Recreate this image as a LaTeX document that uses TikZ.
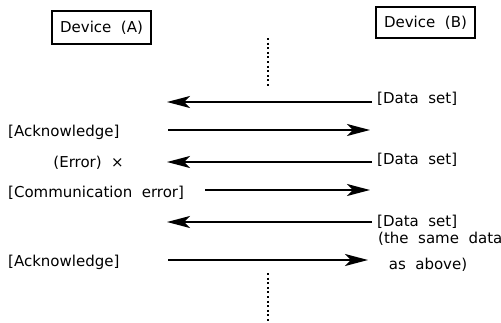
\documentclass[tikz,border=0pt]{standalone}
\usepackage{fontspec}
\setmainfont[WordSpace=2]{DejaVu Sans}
\usetikzlibrary{arrows.meta}
\begin{document}
\begin{tikzpicture}[x=1pt,y=-1pt,
  lbl/.style={inner sep=0pt,font=\fontsize{15}{17}\selectfont},
  devbox/.style={draw,line width=1.1pt,inner sep=0pt,minimum width=99pt,font=\fontsize{15}{17}\selectfont},
  msg/.style={line width=1.7pt,-{Stealth[length=23pt,width=12pt,inset=6pt]}},
  lifeline/.style={line width=1.3pt,dash pattern=on 2pt off 2.6pt}]
\useasboundingbox (0,0) rectangle (501,322);
% devices
\node[devbox,minimum height=33pt] (devA) at (101.5,27.5) {Device (A)};
\node[devbox,minimum height=31pt] (devB) at (425.5,22.5) {Device (B)};
% lifeline dots
\coordinate (t1) at (268,38);
\coordinate (t2) at (268,87);
\draw[lifeline] (t1) -- (t2);
\coordinate (b1) at (268,273);
\coordinate (b2) at (268,322);
\draw[lifeline] (b1) -- (b2);
% labels right
\node[lbl,anchor=west] (ds1) at (377,99) {[Data set]};
\node[lbl,anchor=west] (ds2) at (377,160) {[Data set]};
\node[lbl,anchor=west] (ds3) at (377,222) {[Data set]};
\node[lbl,anchor=west] (same) at (378,239) {(the same data};
\node[lbl] (above) at (428,265) {as above)};
% labels left
\node[lbl,anchor=west] (ack1) at (8,132) {[Acknowledge]};
\node[lbl,anchor=east] (err) at (124,163) {(Error) ×};
\node[lbl,anchor=west] (comm) at (8,193) {[Communication error]};
\node[lbl,anchor=west] (ack2) at (8,262) {[Acknowledge]};
% arrow end points
\coordinate (a1r) at (372,102); \coordinate (a1l) at (167,102);
\coordinate (a2l) at (168,130); \coordinate (a2r) at (370,130);
\coordinate (a3r) at (372,162); \coordinate (a3l) at (167,162);
\coordinate (a4l) at (205,190); \coordinate (a4r) at (370,190);
\coordinate (a5r) at (372,222); \coordinate (a5l) at (167,222);
\coordinate (a6l) at (168,260); \coordinate (a6r) at (368,260);
\draw[msg] (a1r) -- (a1l);
\draw[msg] (a2l) -- (a2r);
\draw[msg] (a3r) -- (a3l);
\draw[msg] (a4l) -- (a4r);
\draw[msg] (a5r) -- (a5l);
\draw[msg] (a6l) -- (a6r);
\end{tikzpicture}
\end{document}
